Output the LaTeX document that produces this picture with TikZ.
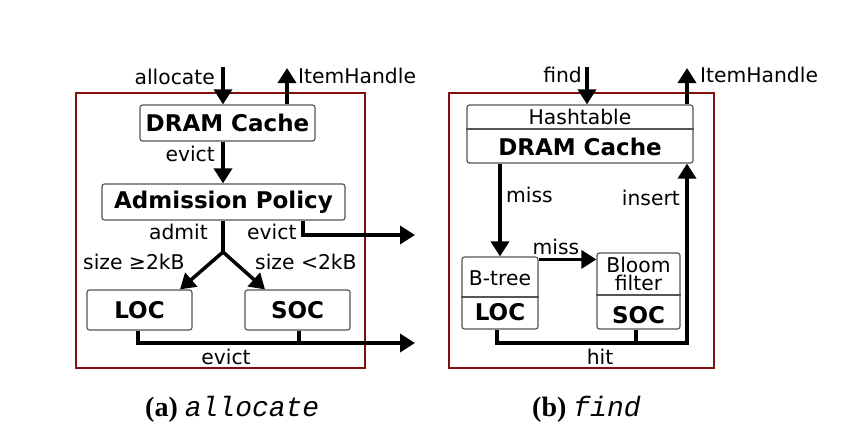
\documentclass[tikz,border=0pt]{standalone}
\usepackage{fontspec}
\setmainfont{Liberation Serif}
\newfontfamily\diagfont{DejaVu Sans}
\newfontfamily\codefont{Liberation Mono}
\usetikzlibrary{arrows.meta,positioning}
\definecolor{boxred}{RGB}{130,14,14}
\definecolor{boxgray}{RGB}{85,85,85}

\tikzset{
  cbox/.style={draw=boxgray, line width=1.2pt, rounded corners=2.5pt, fill=white, inner sep=0pt},
  lbl/.style={font=\diagfont\fontsize{20.3}{17}\selectfont, inner sep=0pt},
  title/.style={font=\diagfont\bfseries\fontsize{23}{26}\selectfont, inner sep=0pt},
  flow/.style={line width=3.5pt, -{Triangle[length=15pt,width=18pt]}},
  link/.style={line width=3.5pt},
  cacheframe/.style={draw=boxred, line width=2.2pt},
  splitline/.style={draw=boxgray, line width=1.2pt},
}

\begin{document}
\begin{tikzpicture}[x=1pt,y=-1pt]
\useasboundingbox (0,0) rectangle (856,442);

% (a) allocate
\draw[cacheframe] (76,93) rectangle (365,368);
\node[cbox, title, minimum width=175pt, minimum height=36pt] (dramA) at (227.5,123) {DRAM Cache};
\node[cbox, title, minimum width=243pt, minimum height=36pt] (admit) at (223.5,202) {Admission Policy};
\node[cbox, title, minimum width=105pt, minimum height=40pt] (locA) at (139.5,310) {LOC};
\node[cbox, title, minimum width=105pt, minimum height=40pt] (socA) at (297.5,310) {SOC};
\coordinate (allocIn) at (223,67);
\coordinate (handleA) at (287,68);
\coordinate (branch) at (223,252);
\coordinate (outA) at (415,235);
\coordinate (outB) at (415,343);

\draw[flow] (allocIn) -- (allocIn |- dramA.north);
\draw[flow] (handleA |- dramA.north) -- (handleA);
\draw[flow] (dramA.south -| allocIn) -- (admit.north -| allocIn);
\draw[link] (admit.south -| allocIn) -- (branch);
\draw[flow] (branch) -- ([xshift=40.5pt]locA.north);
\draw[flow] (branch) -- ([xshift=-32.5pt]socA.north);
\draw[flow] ([xshift=79.5pt]admit.south) |- (outA);
\draw[flow] ([xshift=-1.5pt]locA.south) |- (outB);
\draw[link] ([xshift=1.5pt]socA.south) -- ([xshift=1.5pt]socA.south |- outB);

\node[lbl, anchor=east] (allocL) at (215,77) {allocate};
\node[lbl, anchor=west] (handleL) at (298,76) {ItemHandle};
\node[lbl, anchor=east] (evictL) at (215,154) {evict};
\node[lbl, anchor=east] (admitL) at (208,232) {admit};
\node[lbl, anchor=west] (evictR) at (247,232) {evict};
\node[lbl, anchor=west] (bigL) at (83,262) {size ≥2kB};
\node[lbl, anchor=west] (smallL) at (255,262) {size <2kB};
\node[lbl] (evictB) at (226,357) {evict};

% (b) find
\draw[cacheframe] (449,93) rectangle (714,368);
\node[cbox, minimum width=226pt, minimum height=58pt] (dramB) at (580,134) {};
\node[cbox, minimum width=76pt, minimum height=72pt] (locB) at (500,293) {};
\node[cbox, minimum width=83pt, minimum height=76pt] (socB) at (638.5,291) {};
\draw[splitline] (dramB.west |- 0,129) -- (dramB.east |- 0,129);
\draw[splitline] (locB.west |- 0,297) -- (locB.east |- 0,297);
\draw[splitline] (socB.west |- 0,295) -- (socB.east |- 0,295);
\node[lbl] (hashL) at (580,117) {Hashtable};
\node[title] (dramL) at (580,146.5) {DRAM Cache};
\node[lbl] (btreeL) at (500,278) {B-tree};
\node[title] (locL) at (500,312) {LOC};
\node[lbl, align=center, font=\diagfont\fontsize{20.3}{18.5}\selectfont] (bloomL) at (638.5,274) {Bloom\\filter};
\node[title] (socL) at (638.5,315) {SOC};
\coordinate (findIn) at (587,67);
\coordinate (handleB) at (687,68);
\coordinate (hitC) at (687,343);

\draw[flow] (findIn) -- (findIn |- dramB.north);
\draw[flow] (handleB |- dramB.north) -- (handleB);
\draw[flow] (dramB.south -| locB.north) -- (locB.north);
\draw[flow] ([yshift=-3pt]locB.north east) -- ([yshift=-3pt]socB.west |- locB.north east);
\draw[flow] ([xshift=-3pt]locB.south) |- (hitC) -- (hitC |- dramB.south);
\draw[link] ([xshift=-2.5pt]socB.south) -- ([xshift=-2.5pt]socB.south |- hitC);

\node[lbl, anchor=east] (findL) at (582,75) {find};
\node[lbl, anchor=west] (handleBL) at (700,75) {ItemHandle};
\node[lbl, anchor=west] (missD) at (506,195) {miss};
\node[lbl] (missR) at (556,247) {miss};
\node[lbl, anchor=east] (insertL) at (680,198) {insert};
\node[lbl] (hitL) at (600,357) {hit};

% captions
\node[anchor=base west, inner sep=0pt, font=\fontsize{28}{32}\selectfont] (capA) at (145,416) {\textbf{(a)} {\codefont\itshape allocate}};
\node[anchor=base west, inner sep=0pt, font=\fontsize{28}{32}\selectfont] (capB) at (532,416) {\textbf{(b)} {\codefont\itshape find}};
\end{tikzpicture}
\end{document}
